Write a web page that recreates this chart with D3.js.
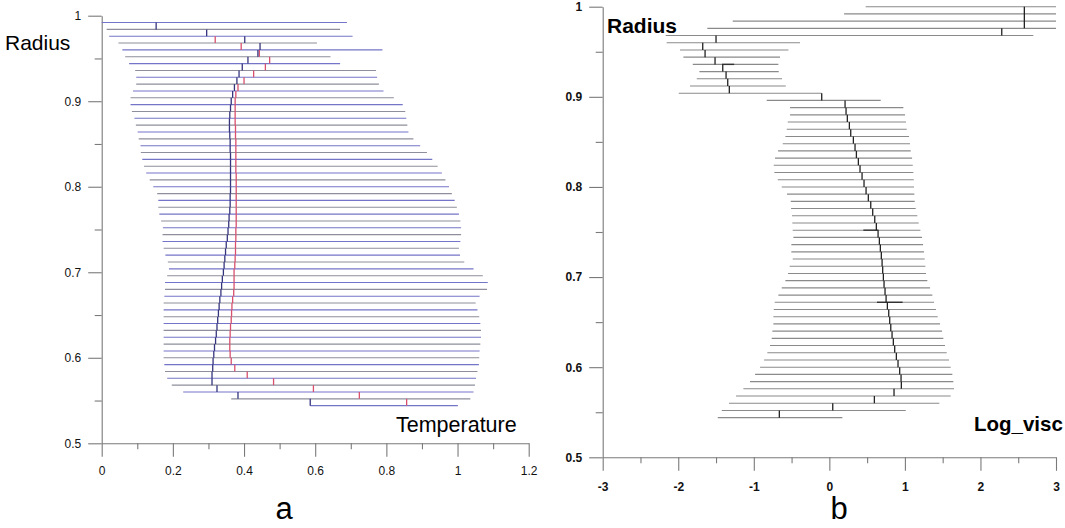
<!DOCTYPE html>
<html>
<head>
<meta charset="utf-8">
<script src="https://cdn.jsdelivr.net/npm/d3@7/dist/d3.min.js"></script>
<style>
body { margin:0; background:#fff; }
svg { display:block; font-family:"Liberation Sans", Arial, sans-serif; }
</style>
</head>
<body>
<svg id="chart" width="1065" height="528"></svg>
<script>
// panel a : temperature profile
var radiusA = [0.992,0.984,0.976,0.968,0.960,0.952,0.944,0.936,0.928,0.920,0.912,0.904,0.896,0.888,0.880,
  0.872,0.864,0.856,0.848,0.840,0.832,0.824,0.816,0.808,0.800,0.792,0.784,0.776,0.768,0.760,
  0.752,0.744,0.736,0.728,0.720,0.712,0.704,0.696,0.688,0.680,0.672,0.664,0.656,0.648,0.640,
  0.632,0.624,0.616,0.608,0.600,0.592,0.584,0.576,0.568,0.560,0.552,0.544];
var lowA = [0.000,0.014,0.021,0.047,0.058,0.066,0.077,0.094,0.097,0.097,0.088,0.081,0.081,0.085,0.092,
  0.096,0.101,0.104,0.109,0.110,0.114,0.119,0.125,0.135,0.145,0.156,0.159,0.159,0.162,0.167,
  0.172,0.171,0.171,0.174,0.179,0.186,0.189,0.184,0.178,0.178,0.176,0.174,0.174,0.174,0.174,
  0.174,0.174,0.174,0.174,0.174,0.176,0.178,0.184,0.197,0.229,0.364,0.586];
var highA = [0.689,0.670,0.705,0.605,0.789,0.643,0.670,0.771,0.774,0.779,0.792,0.821,0.846,0.853,0.856,
  0.859,0.862,0.876,0.895,0.914,0.929,0.944,0.956,0.966,0.976,0.984,0.992,0.998,1.004,1.008,
  1.010,1.010,1.008,1.004,1.007,1.019,1.045,1.071,1.085,1.083,1.062,1.051,1.056,1.061,1.064,
  1.066,1.066,1.064,1.062,1.061,1.060,1.056,1.052,1.049,1.045,1.036,1.001];
// profile value drawn from row i down to row i+1
var blueA = [0.153,0.295,0.402,0.445,0.439,0.411,0.395,0.386,0.380,0.373,0.368,0.364,0.362,0.360,0.359,
  0.359,0.360,0.361,0.361,0.362,0.362,0.362,0.362,0.362,0.362,0.361,0.361,0.360,0.358,0.357,
  0.355,0.353,0.350,0.348,0.346,0.344,0.342,0.339,0.337,0.335,0.332,0.330,0.328,0.326,0.324,
  0.322,0.320,0.317,0.315,0.313,0.312,0.310,0.310,0.324,0.383,0.586,null];
var redA = [null,null,0.319,0.392,0.443,0.472,0.460,0.427,0.400,0.383,0.377,0.375,0.375,0.375,0.375,
  0.376,0.376,0.377,0.377,0.377,0.377,0.377,0.378,0.378,0.378,0.378,0.378,0.378,0.378,0.378,
  0.377,0.377,0.376,0.376,0.375,0.374,0.372,0.372,0.372,0.371,0.368,0.366,0.365,0.364,0.362,
  0.361,0.360,0.360,0.361,0.364,0.374,0.409,0.483,0.595,0.724,0.857,null];

// panel b : log viscosity profile
var radiusB = [1.000,0.992,0.984,0.976,0.968,0.960,0.952,0.944,0.936,0.928,0.920,0.912,0.904,0.896,0.888,
  0.880,0.872,0.864,0.856,0.848,0.840,0.832,0.824,0.816,0.808,0.800,0.792,0.784,0.776,0.768,
  0.760,0.752,0.744,0.736,0.728,0.720,0.712,0.704,0.696,0.688,0.680,0.672,0.664,0.656,0.648,
  0.640,0.632,0.624,0.616,0.608,0.600,0.592,0.584,0.576,0.568,0.560,0.552,0.544];
var lowB = [0.481,0.195,-1.279,-1.615,-2.166,-2.153,-1.976,-1.932,-1.808,-1.720,-1.755,-1.844,-1.993,-0.829,-0.520,
  -0.520,-0.551,-0.564,-0.582,-0.617,-0.679,-0.719,-0.736,-0.728,-0.683,-0.630,-0.560,-0.511,-0.507,-0.494,
  -0.490,-0.485,-0.476,-0.503,-0.503,-0.485,-0.525,-0.547,-0.582,-0.630,-0.675,-0.723,-0.736,-0.741,-0.741,
  -0.754,-0.763,-0.785,-0.821,-0.864,-0.917,-0.983,-1.050,-1.138,-1.235,-1.328,-1.424,-1.477];
var highB = [3.000,3.000,3.000,3.000,2.700,-0.388,-0.542,-0.653,-0.675,-0.670,-0.626,-0.577,-0.101,0.680,0.980,
  1.002,1.015,1.024,1.055,1.068,1.077,1.095,1.104,1.112,1.117,1.121,1.125,1.130,1.143,1.165,
  1.183,1.205,1.227,1.240,1.253,1.262,1.271,1.280,1.297,1.333,1.363,1.386,1.412,1.434,1.465,
  1.492,1.509,1.531,1.553,1.584,1.606,1.628,1.641,1.650,1.606,1.456,1.011,0.172];
var profB = [2.581,2.581,2.581,2.282,-1.500,-1.676,-1.645,-1.513,-1.411,-1.367,-1.345,-1.324,-0.101,0.208,0.221,
  0.238,0.265,0.283,0.318,0.340,0.358,0.384,0.406,0.433,0.459,0.486,0.516,0.548,0.574,0.601,
  0.622,0.645,0.662,0.675,0.688,0.698,0.706,0.715,0.724,0.737,0.751,0.768,0.786,0.799,0.813,
  0.830,0.847,0.865,0.887,0.909,0.931,0.949,0.953,0.856,0.596,0.045,-0.662,null];
// short darker pieces sitting on a few rows of b
var markRowB = [8, 31, 41];
var markLowB = [-1.42, 0.45, 0.63];
var markHighB = [-1.26, 0.65, 0.97];

// ticks
var xMajorA = [0,0.2,0.4,0.6,0.8,1,1.2];
var xLabelsA = ['0','0.2','0.4','0.6','0.8','1','1.2'];
var xMinorA = [0.1,0.3,0.5,0.7,0.9,1.1];
var xMajorB = [-3,-2,-1,0,1,2,3];
var xLabelsB = ['-3','-2','-1','0','1','2','3'];
var xMinorB = [-2.5,-1.5,-0.5,0.5,1.5,2.5];
var yMajor = [0.5,0.6,0.7,0.8,0.9,1];
var yLabels = ['0.5','0.6','0.7','0.8','0.9','1'];
var yMinor = [0.55,0.65,0.75,0.85,0.95];

var svg = d3.select('#chart');
svg.append('rect').attr('width',1065).attr('height',528).attr('fill','#fff');

var xA = d3.scaleLinear().domain([0,1.2]).range([101.7,528.7]);
var yA = d3.scaleLinear().domain([0.5,1]).range([443.3,15.7]);
var xB = d3.scaleLinear().domain([-3,3]).range([602.7,1056]);
var yB = d3.scaleLinear().domain([0.5,1]).range([457.3,6.7]);

function axes(x, y, xMajor, xLabels, xMinor, bold, pad) {
  var g = svg.append('g');
  var x0 = x(x.domain()[0]), y0 = y(0.5);
  g.append('g').attr('transform','translate(0,'+y0+')')
    .call(d3.axisBottom(x).tickValues(xMinor).tickSize(6).tickFormat(''))
    .call(function(s){ s.select('.domain').remove(); });
  g.append('g').attr('transform','translate(0,'+y0+')')
    .call(d3.axisBottom(x).tickValues(xMajor).tickSize(13.5).tickPadding(pad).tickSizeOuter(0)
      .tickFormat(function(d,i){ return xLabels[i]; }));
  g.append('g').attr('transform','translate('+x0+',0)')
    .call(d3.axisLeft(y).tickValues(yMinor).tickSize(7).tickFormat(''))
    .call(function(s){ s.select('.domain').remove(); });
  g.append('g').attr('transform','translate('+x0+',0)')
    .call(d3.axisLeft(y).tickValues(yMajor).tickSize(13.5).tickPadding(7).tickSizeOuter(0)
      .tickFormat(function(d,i){ return yLabels[i]; }));
  g.selectAll('path,line').attr('stroke','#7a7a7a').attr('stroke-width',1.1);
  g.selectAll('text').attr('fill','#111').style('font-size','12px')
    .style('font-family','"Liberation Sans", Arial, sans-serif')
    .style('font-weight', bold ? 'bold' : 'normal');
}

function bars(x, y, radius, low, high, colour) {
  svg.append('g').selectAll('line').data(radius).enter().append('line')
    .attr('x1', function(d,i){ return x(low[i]); })
    .attr('x2', function(d,i){ return x(high[i]); })
    .attr('y1', function(d){ return y(d); })
    .attr('y2', function(d){ return y(d); })
    .attr('stroke', colour)
    .attr('stroke-width', 1.1);
}

function profile(x, y, radius, prof, colour) {
  var segs = [];
  for(var i = 0; i < radius.length - 1; i++) {
    if(prof[i] != null) segs.push({v: prof[i], r1: radius[i], r2: radius[i+1]});
  }
  svg.append('g').selectAll('line').data(segs).enter().append('line')
    .attr('x1', function(d){ return x(d.v); })
    .attr('x2', function(d){ return x(d.v); })
    .attr('y1', function(d){ return y(d.r1); })
    .attr('y2', function(d){ return y(d.r2); })
    .attr('stroke', colour)
    .attr('stroke-width', 1.3);
}

// ---- panel a
axes(xA, yA, xMajorA, xLabelsA, xMinorA, false, 10);
bars(xA, yA, radiusA, lowA, highA, function(d,i){ return i % 2 ? '#8e8e9c' : '#7474c8'; });
profile(xA, yA, radiusA, redA, '#d8506e');
profile(xA, yA, radiusA, blueA, '#35357e');

// ---- panel b
axes(xB, yB, xMajorB, xLabelsB, xMinorB, true, 12);
bars(xB, yB, radiusB, lowB, highB, '#8a8a8a');
svg.append('g').selectAll('line').data(markRowB).enter().append('line')
  .attr('x1', function(d,i){ return xB(markLowB[i]); })
  .attr('x2', function(d,i){ return xB(markHighB[i]); })
  .attr('y1', function(d){ return yB(radiusB[d]); })
  .attr('y2', function(d){ return yB(radiusB[d]); })
  .attr('stroke', '#333').attr('stroke-width', 1.4);
profile(xB, yB, radiusB, profB, '#222');

// ---- labels
function label(txt, x, y, size, weight, anchor) {
  svg.append('text').attr('x', x).attr('y', y).attr('text-anchor', anchor || 'start')
    .style('font-size', size + 'px').style('font-weight', weight || 'normal')
    .attr('fill', '#000').text(txt);
}
label('Radius', 5, 50, 21);
label('Temperature', 396, 432, 21.5);
label('a', 284, 519, 31, 'normal', 'middle');
label('Radius', 607, 33, 21, 'bold');
label('Log_visc', 974, 431, 20.5, 'bold');
label('b', 839, 519, 31, 'normal', 'middle');
</script>
</body>
</html>
